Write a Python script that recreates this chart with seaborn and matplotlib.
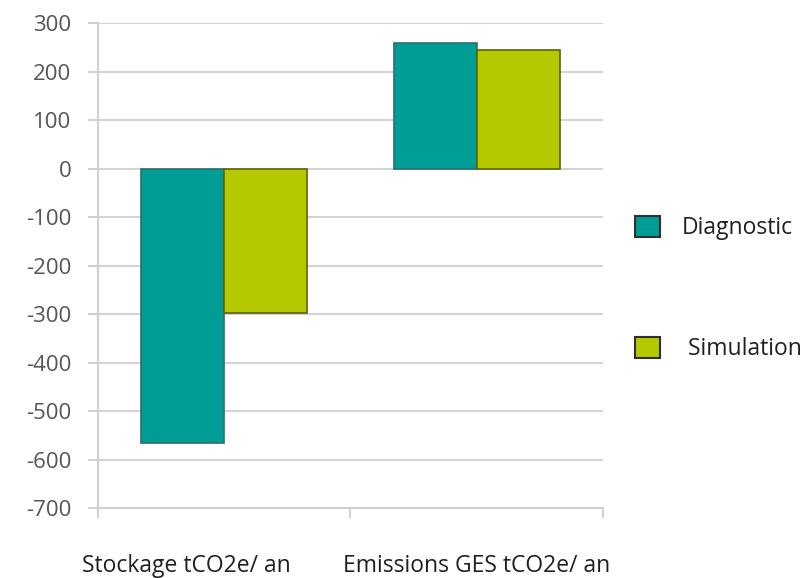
import pandas as pd
import numpy as np
import matplotlib.pyplot as plt
import seaborn as sns
from matplotlib.patches import Patch
from matplotlib.transforms import ScaledTranslation

categories = ['Stockage tCO2e/ an', 'Emissions GES tCO2e/ an']
diagnostic = [-565, 258]
simulation = [-298, 244]
series = ['Diagnostic', 'Simulation']

df = pd.DataFrame({
    'categorie': categories * 2,
    'valeur': diagnostic + simulation,
    'serie': [series[0]] * 2 + [series[1]] * 2,
})

sns.set_style('white')
plt.rcParams['font.family'] = ['Open Sans', 'DejaVu Sans']
plt.rcParams['axes.unicode_minus'] = False

fig = plt.figure(figsize=(8.07, 5.78), dpi=100)
ax = fig.add_axes([0.1214, 0.121, 0.6258, 0.839])

palette = {'Diagnostic': '#009C96', 'Simulation': '#B5C900'}
edges = {'Diagnostic': '#2B6F6B', 'Simulation': '#5C6300'}
sns.barplot(data=df, x='categorie', y='valeur', hue='serie', palette=palette,
            width=0.656, gap=0, saturation=1, ax=ax, legend=False, zorder=3)

for cont, s in zip(ax.containers, series):
    for bar in cont:
        bar.set_edgecolor(edges[s])
        bar.set_linewidth(1.2)

ax.set_ylim(-700, 300)
ax.set_xlim(-0.5, 1.5)
ax.set_yticks(np.arange(-700, 301, 100))
ax.yaxis.grid(True, color='#d4d4d4', linewidth=1.5, zorder=0)
ax.set_axisbelow(True)
for sp in ['top', 'right']:
    ax.spines[sp].set_visible(False)
ax.spines['left'].set_color('#d0d0d0')
ax.spines['left'].set_linewidth(1.5)
ax.spines['bottom'].set_color('#d0d0d0')
ax.spines['bottom'].set_linewidth(1.5)

ax.set_xlabel('')
ax.set_ylabel('')
ax.tick_params(axis='y', left=True, length=7, color='#c8c8c8', width=1.2,
               labelsize=16, labelcolor='#555555', pad=12)
ax.tick_params(axis='x', bottom=False, length=0, labelsize=16.5, labelcolor='#202020', pad=33)
ax.set_xticks([-0.5, 0.5, 1.5], minor=True)
ax.tick_params(axis='x', which='minor', bottom=True, length=7, color='#c8c8c8', width=1.2)

# the first category label sits a bit left of its bars in the original
lbl = ax.get_xticklabels()[0]
lbl.set_transform(lbl.get_transform() + ScaledTranslation(-0.38, 0, fig.dpi_scale_trans))

handles = [Patch(facecolor=palette[s], edgecolor='#303030', linewidth=1.5) for s in series]
fig.legend(handles, ['Diagnostic', ' Simulation'], loc='upper left',
           bbox_to_anchor=(0.7613, 0.6626), frameon=False, fontsize=16.5,
           labelspacing=4.2, handlelength=1.09, handleheight=1.09, handletextpad=0.96,
           labelcolor='#202020')

fig.savefig('out.png', dpi=100)
